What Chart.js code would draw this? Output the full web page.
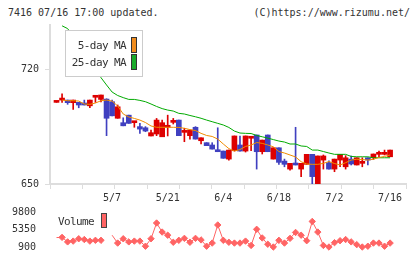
<!DOCTYPE html>
<html>
<head>
<meta charset="utf-8">
<title>7416</title>
<script src="https://cdn.jsdelivr.net/npm/chart.js@4.4.1/dist/chart.umd.min.js"></script>
<style>
body { margin: 0; background: #fff; }
#wrap { position: relative; width: 420px; height: 259px; overflow: hidden; font-family: "DejaVu Sans Mono", monospace; color: #333; background: #fff; }
.txt { position: absolute; font-size: 10px; line-height: 14px; white-space: nowrap; }
.leg { position: absolute; font-size: 11px; letter-spacing: -0.6px; line-height: 14px; white-space: nowrap; text-align: right; }
.sw { position: absolute; box-sizing: border-box; border: 1px solid #333; width: 6px; }
canvas { position: absolute; left: 0; }
</style>
</head>
<body>
<div id="wrap">
    <div class="txt" style="left:8px;top:6px">7416 07/16 17:00 updated.</div>
    <div class="txt" style="right:10px;top:6px">(C)https://www.rizumu.net/</div>
    <canvas id="priceChart" width="420" height="206" style="top:0"></canvas>
    <canvas id="volumeChart" width="420" height="59" style="top:200px"></canvas>
    <div style="position:absolute;left:65px;top:30px;width:78px;height:47px;box-sizing:border-box;border:1px solid #ccc;background:#fff"></div>
    <div class="leg" style="left:60px;width:66px;top:39px">5-day MA</div>
    <div class="sw" style="left:131px;top:37px;height:16px;background:#f08c1e"></div>
    <div class="leg" style="left:60px;width:66px;top:56px">25-day MA</div>
    <div class="sw" style="left:131px;top:54px;height:16px;background:#1aaa2a"></div>
    <div class="leg" style="left:58px;top:215px;text-align:left">Volume</div>
    <div class="sw" style="left:101px;top:213px;height:15px;background:#ff6464;border-color:#444"></div>
</div>
<script>
// trading days on the x axis
const dates = ['4/15','4/16','4/17','4/18','4/19','4/22','4/23','4/24','4/25','4/26',
    '5/7','5/8','5/9','5/10','5/13','5/14','5/15','5/16','5/17','5/20',
    '5/21','5/22','5/23','5/24','5/27','5/28','5/29','5/30','5/31','6/3',
    '6/4','6/5','6/6','6/7','6/10','6/11','6/12','6/13','6/14','6/17',
    '6/18','6/19','6/20','6/21','6/24','6/25','6/26','6/27','6/28','7/1',
    '7/2','7/3','7/4','7/5','7/8','7/9','7/10','7/11','7/12','7/15','7/16'];
const tickLabels = ['5/7','5/21','6/4','6/18','7/2','7/16'];
const priceTicks = [650, 720];
const volumeTicks = [900, 5350, 9800];

const opens = [699.8,701.2,701.2,699.6,699.8,699.2,697.7,702.9,701.6,701.8,
    700.2,690.1,687.4,692.0,687.4,685.0,684.3,679.3,680.5,678.8,
    684.6,687.6,689.0,681.5,679.5,684.6,676.4,675.2,673.8,670.7,
    670.1,665.2,670.3,673.8,670.1,677.9,679.9,669.7,679.9,665.2,
    672.1,664.0,659.1,662.6,659.1,662.0,668.1,650.0,664.6,663.0,
    659.1,664.6,660.5,665.2,661.6,662.6,666.0,666.0,668.1,668.1,666.6];
const highs = [699.8,705.0,701.2,701.2,699.8,701.2,701.2,703.7,704.3,702.0,
    701.2,698.2,690.4,692.0,688.0,687.0,685.0,682.9,690.0,689.0,
    692.0,690.0,689.0,684.0,682.9,685.0,678.2,675.2,675.2,684.3,
    670.1,670.7,679.3,679.3,679.3,678.5,679.9,676.8,679.9,672.1,
    672.1,665.2,662.6,684.6,662.6,668.1,668.1,667.1,667.7,664.2,
    665.2,668.1,667.3,667.1,666.0,666.0,666.0,668.3,670.1,670.7,670.7];
const lows = [699.8,699.8,698.6,695.5,696.5,698.2,696.5,699.8,700.0,679.5,
    691.6,690.1,685.5,687.0,684.6,680.9,681.9,679.3,679.5,678.8,
    679.3,686.6,679.5,675.8,677.4,677.4,674.4,673.4,671.3,669.7,
    665.7,664.6,670.1,670.1,669.5,670.3,659.1,668.3,669.7,665.2,
    662.0,660.5,658.5,661.6,654.5,662.0,649.8,650.0,659.1,659.1,
    657.5,660.5,659.1,661.6,661.6,660.5,661.6,665.0,666.6,667.7,666.6];
const closes = [699.8,701.2,699.6,701.2,698.2,698.2,701.2,702.9,704.3,690.1,
    691.6,697.1,685.5,687.0,687.4,683.5,682.3,681.3,689.0,687.4,
    684.6,687.6,679.5,681.5,682.9,677.4,678.2,673.4,671.3,669.7,
    665.7,670.7,679.3,670.1,679.3,677.9,669.7,676.8,669.7,672.1,
    663.2,662.0,662.6,661.6,662.6,668.1,654.5,667.1,667.1,659.1,
    665.2,668.1,666.0,662.2,666.0,662.6,664.6,668.3,668.1,669.1,670.7];
const ma5 = [null,701.2,700.8,700.8,700.6,698.8,698.6,699.4,700.8,701.2,
    700.6,697.6,692.7,690.9,690.0,689.0,687.5,685.4,684.6,684.6,
    684.6,684.6,684.5,684.0,683.2,682.6,680.9,679.6,679.0,677.4,
    674.4,671.6,670.1,671.0,672.9,673.8,675.3,674.8,673.8,672.7,
    669.8,668.9,667.7,666.5,663.6,662.2,662.0,662.0,662.6,663.7,
    662.5,661.6,663.0,664.6,665.1,664.9,664.6,665.1,666.2,666.8,667.7];
const ma25 = [null,746.5,744.8,740.2,734.8,729.3,724.4,719.5,714.9,710.4,
    706.1,704.0,702.7,701.6,701.6,701.0,700.2,698.8,697.3,696.0,
    695.1,694.5,693.1,692.7,691.8,691.0,690.1,689.0,688.0,687.0,
    686.0,684.5,682.3,681.1,680.9,680.8,679.6,678.8,678.0,677.1,
    676.2,675.6,674.4,674.4,673.2,672.9,670.7,670.7,669.8,668.9,
    668.1,668.1,668.1,666.8,666.6,666.6,666.6,666.0,666.0,666.0,666.0];
const volumes = [3300,3350,2200,2400,3000,2800,2400,2600,2600,null,
    3900,1900,3000,2200,2400,2400,1100,3000,7000,4700,
    3900,2100,2600,3100,2100,3100,2700,1100,1900,6500,
    2600,2100,1900,1900,2400,1300,5400,3200,1600,900,
    2600,1900,3100,4600,3900,2500,7400,4700,1300,900,
    2000,2500,2800,2200,1500,900,1100,1900,1900,1100,1900];

const upColor = '#dd0000';
const downColor = '#4040c0';
const fontTicks = { family: 'DejaVu Sans Mono', size: 10 };
const xMin = -1.17;
const xMax = 62.86;

const candleColors = closes.map((c, i) => c >= opens[i] ? upColor : downColor);
const asPoints = arr => arr.map((v, i) => ({ x: i, y: v }));

const labelAt = v => {
    const i = Math.round(v);
    if (Math.abs(v - i) > 1e-6) return '';
    return tickLabels.includes(dates[i]) ? dates[i] : '';
}

const graficoPrecio = () => {
    const ctx = document.getElementById('priceChart');
    let dataGrafico = {
        type: 'bar',
        data: {
            datasets: [
                {
                    type: 'line',
                    label: '5-day MA',
                    data: asPoints(ma5),
                    borderColor: '#f08c00',
                    borderWidth: 1,
                    pointRadius: 0,
                    order: 0
                },
                {
                    type: 'line',
                    label: '25-day MA',
                    data: asPoints(ma25),
                    borderColor: '#00aa00',
                    borderWidth: 1,
                    pointRadius: 0,
                    order: 0
                },
                {
                    label: 'body',
                    data: dates.map((d, i) => ({ x: i, y: [opens[i], closes[i]] })),
                    backgroundColor: candleColors,
                    grouped: false,
                    barThickness: 5,
                    minBarLength: 2,
                    order: 1
                },
                {
                    label: 'wick',
                    data: dates.map((d, i) => ({ x: i, y: [lows[i], highs[i]] })),
                    backgroundColor: candleColors,
                    grouped: false,
                    barThickness: 1,
                    order: 2
                }
            ]
        },
        options: {
            responsive: false,
            animation: false,
            layout: { padding: { top: 25, right: 14, left: 0, bottom: 0 } },
            plugins: { legend: { display: false }, tooltip: { enabled: false } },
            scales: {
                x: {
                    type: 'linear',
                    min: xMin,
                    max: xMax,
                    offset: false,
                    afterBuildTicks: s => {
                        const marks = Array.from({ length: 12 }, (_, k) => xMin + k * (xMax - xMin) / 11);
                        const labels = tickLabels.map(l => dates.indexOf(l));
                        s.ticks = [...marks, ...labels].sort((a, b) => a - b).map(v => ({ value: v }));
                    },
                    afterFit: s => { s.height = 22; },
                    grid: {
                        offset: false,
                        drawOnChartArea: false,
                        tickLength: 5,
                        color: '#ddd',
                        tickColor: c => (c.tick && c.tick.label) ? 'rgba(0,0,0,0)' : '#ddd'
                    },
                    border: { color: '#ddd', width: 2 },
                    ticks: {
                        autoSkip: false,
                        maxRotation: 0,
                        padding: 3,
                        color: '#333',
                        font: fontTicks,
                        callback: v => labelAt(v)
                    }
                },
                y: {
                    min: 650,
                    max: 747,
                    afterBuildTicks: s => { s.ticks = priceTicks.map(v => ({ value: v })); },
                    afterFit: s => { s.width = 50; },
                    grid: { drawOnChartArea: false, tickLength: 5, color: '#ddd' },
                    border: { color: '#ddd', width: 2 },
                    ticks: { padding: 6, color: '#333', font: fontTicks, callback: v => String(v) }
                }
            }
        }
    }
    window.chartPrecio = new Chart(ctx, dataGrafico);
}

const graficoVolumen = () => {
    const ctx = document.getElementById('volumeChart');
    let dataGrafico = {
        type: 'line',
        data: {
            datasets: [{
                label: 'Volume',
                data: asPoints(volumes),
                borderColor: '#ff6464',
                backgroundColor: '#ff6464',
                borderWidth: 1,
                pointStyle: 'rectRot',
                // first point after a gap is drawn without a marker
                pointRadius: c => (c.dataIndex === 0 || volumes[c.dataIndex - 1] == null) ? 0 : 3.2,
                pointBorderWidth: 1,
                spanGaps: false,
                clip: false
            }]
        },
        options: {
            responsive: false,
            animation: false,
            layout: { padding: { top: 9, right: 14, left: 0, bottom: 10 } },
            plugins: { legend: { display: false }, tooltip: { enabled: false } },
            scales: {
                x: { type: 'linear', min: xMin, max: xMax, display: false },
                y: {
                    min: 900,
                    max: 9800,
                    afterBuildTicks: s => { s.ticks = volumeTicks.map(v => ({ value: v })); },
                    afterFit: s => { s.width = 50; },
                    grid: { display: false },
                    border: { display: false },
                    ticks: { padding: 6, color: '#333', font: fontTicks, callback: v => String(v) }
                }
            }
        }
    }
    window.chartVolumen = new Chart(ctx, dataGrafico);
}

graficoPrecio();
graficoVolumen();
</script>
</body>
</html>
